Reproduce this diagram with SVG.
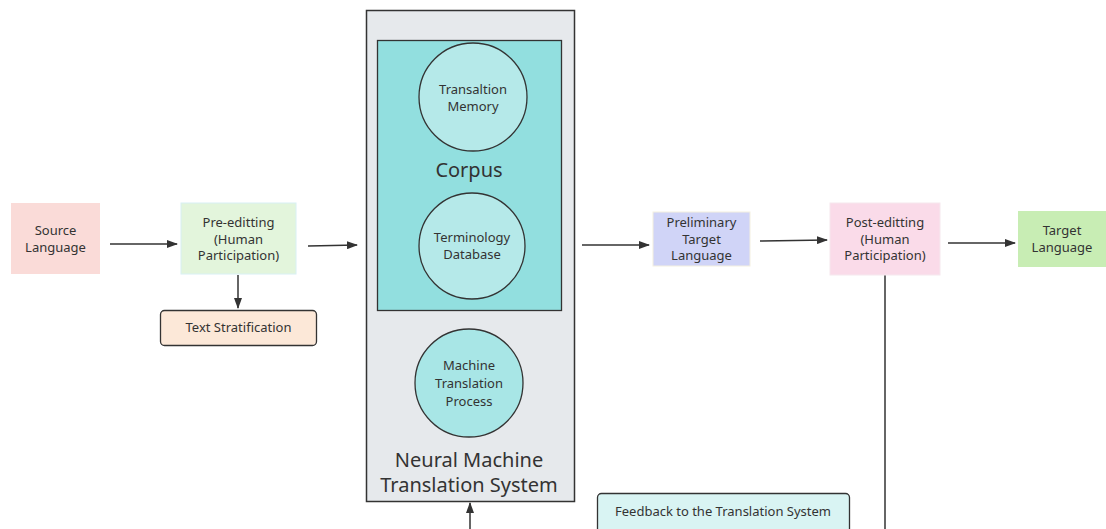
<svg xmlns="http://www.w3.org/2000/svg" width="1106" height="529" viewBox="0 0 1106 529">
  <defs>
    <marker id="arrow" markerWidth="11" markerHeight="8" refX="10" refY="4" orient="auto" markerUnits="userSpaceOnUse">
      <path d="M0,0 L11,4 L0,8 Z" fill="#333"/>
    </marker>
    <style>
      text { font-family: "Noto Sans", "Open Sans", sans-serif; fill: #333; text-anchor: middle; }
      .lbl { font-size: 13px; }
      .big { font-size: 20px; }
      .conn { stroke: #333; stroke-width: 1.5; fill: none; }
      .circle { fill: #b5e9e9; stroke: #333; stroke-width: 1.3; }
      .tag { stroke: #333; stroke-width: 1.3; }
    </style>
  </defs>
  <rect width="1106" height="529" fill="#ffffff"/>

  <!-- connectors -->
  <g id="connectors">
    <line class="conn" x1="110" y1="244" x2="177" y2="244" marker-end="url(#arrow)"/>
    <line class="conn" x1="238" y1="275" x2="238" y2="308" marker-end="url(#arrow)"/>
    <line class="conn" x1="308" y1="246" x2="357" y2="245" marker-end="url(#arrow)"/>
    <line class="conn" x1="582" y1="245" x2="649" y2="245" marker-end="url(#arrow)"/>
    <line class="conn" x1="760" y1="241" x2="827" y2="240" marker-end="url(#arrow)"/>
    <line class="conn" x1="948" y1="243" x2="1015" y2="243" marker-end="url(#arrow)"/>
    <line class="conn" x1="885" y1="275" x2="885" y2="529"/>
    <line class="conn" x1="470" y1="529" x2="470" y2="503" marker-end="url(#arrow)"/>
  </g>

  <g id="source-language">
    <rect x="11" y="203" width="89" height="71" fill="#fadbd8"/>
    <text class="lbl" x="55.5" y="235">Source</text>
    <text class="lbl" x="55.5" y="252">Language</text>
  </g>

  <g id="pre-editing">
    <rect x="181" y="203" width="115" height="71" fill="#e3f5dc" stroke="#d8f0f4" stroke-width="1"/>
    <text class="lbl" x="238.5" y="227">Pre-editting</text>
    <text class="lbl" x="238.5" y="244">(Human</text>
    <text class="lbl" x="238.5" y="260">Participation)</text>
  </g>

  <g id="text-stratification">
    <rect class="tag" x="160.5" y="310.5" width="156" height="35" rx="4" fill="#fce8d8"/>
    <text class="lbl" x="238.5" y="332">Text Stratification</text>
  </g>

  <g id="nmt-system">
    <rect x="366.5" y="10.5" width="208" height="491" fill="#e6e9ec" stroke="#333" stroke-width="1.5"/>
    <text class="big" x="469" y="467">Neural Machine</text>
    <text class="big" x="469" y="492">Translation System</text>
  </g>

  <g id="corpus">
    <rect x="377.5" y="40.5" width="184" height="270" fill="#92dfdf" stroke="#333" stroke-width="1.3"/>
    <text class="big" x="469" y="177">Corpus</text>
  </g>

  <g id="translation-memory">
    <circle class="circle" cx="473" cy="97" r="54"/>
    <text class="lbl" x="473" y="94">Transaltion</text>
    <text class="lbl" x="473" y="111">Memory</text>
  </g>

  <g id="terminology-database">
    <circle class="circle" cx="472" cy="246" r="53"/>
    <text class="lbl" x="472" y="242">Terminology</text>
    <text class="lbl" x="472" y="259">Database</text>
  </g>

  <g id="machine-translation-process">
    <circle class="circle" cx="469" cy="383" r="54" style="fill:#a8e6e6"/>
    <text class="lbl" x="469" y="370">Machine</text>
    <text class="lbl" x="469" y="388">Translation</text>
    <text class="lbl" x="469" y="406">Process</text>
  </g>

  <g id="preliminary-target">
    <rect x="653" y="212" width="97" height="54" fill="#d0d4f7" stroke="#f4f0e0" stroke-width="1"/>
    <text class="lbl" x="701.5" y="227">Preliminary</text>
    <text class="lbl" x="701.5" y="244">Target</text>
    <text class="lbl" x="701.5" y="260">Language</text>
  </g>

  <g id="post-editing">
    <rect x="830" y="203" width="110" height="72" fill="#fadbe9" stroke="#f6e8ee" stroke-width="1"/>
    <text class="lbl" x="885" y="227">Post-editting</text>
    <text class="lbl" x="885" y="244">(Human</text>
    <text class="lbl" x="885" y="260">Participation)</text>
  </g>

  <g id="target-language">
    <rect x="1018" y="211" width="88" height="56" fill="#c8edb4"/>
    <text class="lbl" x="1062" y="235">Target</text>
    <text class="lbl" x="1062" y="252">Language</text>
  </g>

  <g id="feedback">
    <rect class="tag" x="597.5" y="493.5" width="252" height="42" rx="4" fill="#d9f4f3"/>
    <text class="lbl" x="723" y="516">Feedback to the Translation System</text>
  </g>
</svg>
